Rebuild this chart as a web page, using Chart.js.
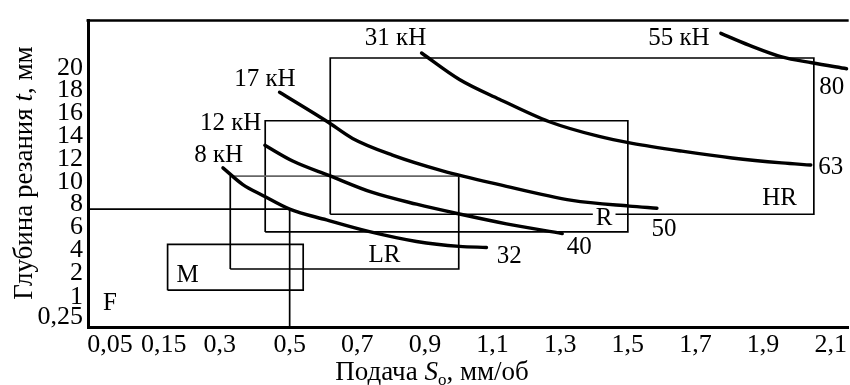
<!DOCTYPE html>
<html><head><meta charset="utf-8">
<script src="https://cdn.jsdelivr.net/npm/chart.js@4"></script>
<style>html,body{margin:0;padding:0;background:#fff}#wrap{width:850px;height:385px}</style>
</head><body><div id="wrap"><canvas id="c" width="850" height="385"></canvas></div>
<script>
// ---------- axis ticks ----------
const xTicks = [0.05, 0.15, 0.3, 0.5, 0.7, 0.9, 1.1, 1.3, 1.5, 1.7, 1.9, 2.1];
const xTickLabels = ['0,05', '0,15', '0,3', '0,5', '0,7', '0,9', '1,1', '1,3', '1,5', '1,7', '1,9', '2,1'];
const yTicks = [0.25, 1, 2, 4, 6, 8, 10, 12, 14, 16, 18, 20];
const yTickLabels = ['0,25', '1', '2', '4', '6', '8', '10', '12', '14', '16', '18', '20'];

// ---------- force curves (feed S, depth t) ----------
const curve8 = {
  s: [0.309, 0.366, 0.423, 0.5, 0.609, 0.736, 0.875, 1.002, 1.082],
  t: [11.22, 9.75, 8.80, 7.60, 6.65, 5.62, 4.76, 4.33, 4.24]
};
const curve12 = {
  s: [0.429, 0.509, 0.618, 0.745, 0.875, 1.002, 1.141, 1.306],
  t: [13.20, 11.82, 10.53, 9.06, 8.03, 7.17, 6.31, 5.45]
};
const curve17 = {
  s: [0.471, 0.612, 0.686, 0.804, 0.952, 1.120, 1.335, 1.504, 1.586],
  t: [17.85, 15.26, 13.80, 12.34, 10.96, 9.75, 8.37, 7.86, 7.68]
};
const curve31 = {
  s: [0.890, 1.002, 1.120, 1.268, 1.415, 1.513, 1.660, 1.808, 1.955, 2.041],
  t: [21.29, 18.97, 17.24, 15.26, 13.97, 13.37, 12.68, 12.08, 11.65, 11.47]
};
const curve55 = {
  s: [1.775, 1.858, 1.955, 2.044, 2.147],
  t: [23.01, 21.98, 20.95, 20.43, 19.91]
};
const curveNames = ['8 кН', '12 кН', '17 кН', '31 кН', '55 кН'];
const curveNamePos = { s: [0.297, 0.331, 0.429, 0.813, 1.651], t: [12.33, 15.09, 18.97, 22.58, 22.58] };
const curveEndNames = ['32', '40', '50', '63', '80'];
const curveEndPos = { s: [1.149, 1.356, 1.607, 2.10, 2.103], t: [3.46, 4.24, 5.79, 11.22, 18.28] };

// ---------- operating regions [sMin, sMax, tMin, tMax] ----------
const regionNames = ['M', 'LR', 'R', 'HR'];
const regionM  = [0.16, 0.54, 1.3, 4.5];
const regionLR = [0.33, 1.0, 2.35, 10.5];
const regionR  = [0.43, 1.5, 5.6, 15.35];
const regionHR = [0.62, 2.05, 7.15, 20.85];
const regionNamePos = { s: [0.214, 0.78, 1.43, 1.949], t: [1.92, 3.55, 6.74, 8.55] };
const fineName = 'F';
const finePos = { s: 0.05, t: 0.77 };

// reference lines: S = 0,5 mm/rev, t = 7,6 mm
const refS = 0.5;
const refT = 7.6;

// ---------- non-uniform axis scale (value -> axis units), as in the original ----------
const warpKnots = {
  x: [[0, 0], [0.05, 22], [0.15, 76], [0.3, 132], [0.5, 202], [2.1, 744]],
  y: [[0, 0], [0.25, 10], [1, 30], [2, 55], [20, 264]]
};
function warp(knots, v) {
  let i = 0;
  if (v <= knots[0][0]) i = 0;
  else if (v >= knots[knots.length - 1][0]) i = knots.length - 2;
  else while (i < knots.length - 2 && v > knots[i + 1][0]) i++;
  const [a0, p0] = knots[i], [a1, p1] = knots[i + 1];
  return p0 + (v - a0) * (p1 - p0) / (a1 - a0);
}
function unwarp(knots, p) {
  let i = 0;
  if (p <= knots[0][1]) i = 0;
  else if (p >= knots[knots.length - 1][1]) i = knots.length - 2;
  else while (i < knots.length - 2 && p > knots[i + 1][1]) i++;
  const [a0, p0] = knots[i], [a1, p1] = knots[i + 1];
  return a0 + (p - p0) * (a1 - a0) / (p1 - p0);
}
class WarpScale extends Chart.LinearScale {
  static id = 'warp';
  static defaults = Chart.LinearScale.defaults;
  _k() { return warpKnots[this.axis]; }
  getPixelForValue(v) {
    if (v === null || v === undefined || isNaN(v)) return NaN;
    const k = this._k(), a = warp(k, this.min), b = warp(k, this.max);
    return this.getPixelForDecimal((warp(k, v) - a) / (b - a));
  }
  getValueForPixel(p) {
    const k = this._k(), a = warp(k, this.min), b = warp(k, this.max);
    return unwarp(k, a + this.getDecimalForPixel(p) * (b - a));
  }
}
Chart.register(WarpScale);

// ---------- build datasets ----------
const pts = (c) => c.s.map((s, i) => ({ x: s, y: c.t[i] }));
const rect = (r) => [{ x: r[0], y: r[2] }, { x: r[1], y: r[2] }, { x: r[1], y: r[3] }, { x: r[0], y: r[3] }, { x: r[0], y: r[2] }];
const curveDs = (c) => ({ data: pts(c), borderColor: '#000', borderWidth: 3.4, pointRadius: 0, cubicInterpolationMode: 'monotone', fill: false, borderCapStyle: 'round' });
const rectDs = (r) => ({ data: rect(r), borderColor: '#000', borderWidth: 1.7, pointRadius: 0, tension: 0, fill: false });

const FONT = '"Liberation Serif", "Times New Roman", serif';

const annot = {
  id: 'annot',
  afterDatasetsDraw(chart) {
    const { ctx, chartArea: ca, scales: { x, y } } = chart;
    ctx.save();
    // top frame line
    ctx.strokeStyle = '#000'; ctx.lineWidth = 2.5;
    ctx.beginPath(); ctx.moveTo(ca.left - 1.5, ca.top); ctx.lineTo(ca.right, ca.top); ctx.stroke();

    ctx.fillStyle = '#000';
    ctx.font = '25px ' + FONT;
    ctx.textAlign = 'center'; ctx.textBaseline = 'middle';
    curveNames.forEach((n, i) => ctx.fillText(n, x.getPixelForValue(curveNamePos.s[i]), y.getPixelForValue(curveNamePos.t[i])));
    curveEndNames.forEach((n, i) => ctx.fillText(n, x.getPixelForValue(curveEndPos.s[i]), y.getPixelForValue(curveEndPos.t[i])));
    regionNames.forEach((n, i) => {
      const px = x.getPixelForValue(regionNamePos.s[i]), py = y.getPixelForValue(regionNamePos.t[i]);
      const w = ctx.measureText(n).width;
      ctx.fillStyle = '#fff'; ctx.fillRect(px - w / 2 - 3, py - 9, w + 6, 18);
      ctx.fillStyle = '#000'; ctx.fillText(n, px, py);
    });
    ctx.fillText(fineName, x.getPixelForValue(finePos.s), y.getPixelForValue(finePos.t));

    // x axis title: Подача S_o, мм/об
    const parts = [['Подача ', '27px ' + FONT, 0], ['S', 'italic 27px ' + FONT, 0], ['о', '17px ' + FONT, 5], [', мм/об', '27px ' + FONT, 0]];
    let tw = 0; parts.forEach(p => { ctx.font = p[1]; tw += ctx.measureText(p[0]).width; });
    let cx = 432 - tw / 2;
    ctx.textAlign = 'left'; ctx.textBaseline = 'alphabetic';
    parts.forEach(p => { ctx.font = p[1]; ctx.fillText(p[0], cx, 380 + p[2]); cx += ctx.measureText(p[0]).width; });

    // y axis title: Глубина резания t, мм
    const yparts = [['Глубина резания ', '27px ' + FONT], ['t', 'italic 27px ' + FONT], [', мм', '27px ' + FONT]];
    tw = 0; yparts.forEach(p => { ctx.font = p[1]; tw += ctx.measureText(p[0]).width; });
    ctx.translate(32, 173); ctx.rotate(-Math.PI / 2);
    cx = -tw / 2;
    yparts.forEach(p => { ctx.font = p[1]; ctx.fillText(p[0], cx, 0); cx += ctx.measureText(p[0]).width; });
    ctx.restore();
  }
};

const lrTopGrey = (c) => (c.p0.parsed.y === regionLR[3] && c.p1.parsed.y === regionLR[3]) ? '#666' : undefined;

new Chart(document.getElementById('c'), {
  type: 'line',
  data: {
    datasets: [
      curveDs(curve8), curveDs(curve12), curveDs(curve17), curveDs(curve31), curveDs(curve55),
      rectDs(regionM),
      Object.assign(rectDs(regionLR), { segment: { borderColor: lrTopGrey } }),
      rectDs(regionR), rectDs(regionHR),
      { data: [{ x: 0, y: refT }, { x: refS, y: refT }, { x: refS, y: 0 }], borderColor: '#000', borderWidth: 1.7, pointRadius: 0, tension: 0, fill: false }
    ]
  },
  options: {
    responsive: false,
    animation: false,
    maintainAspectRatio: false,
    layout: { padding: { top: 15, right: 0, left: 0, bottom: 0 } },
    plugins: { legend: { display: false }, tooltip: { enabled: false } },
    scales: {
      x: {
        type: 'warp', min: 0, max: 2.153, bounds: 'data',
        afterBuildTicks: s => { s.ticks = xTicks.map(v => ({ value: v })); },
        afterFit: s => { s.height = 58; },
        grid: { display: false, drawTicks: false },
        border: { display: true, color: '#000', width: 3 },
        ticks: { autoSkip: false, maxRotation: 0, minRotation: 0, color: '#000', padding: 3,
          font: { family: FONT, size: 26 }, callback: v => xTickLabels[xTicks.indexOf(v)] }
      },
      y: {
        type: 'warp', min: 0, max: 24.13, bounds: 'data',
        afterBuildTicks: s => { s.ticks = yTicks.map(v => ({ value: v })); },
        afterFit: s => { s.width = 88; },
        grid: { display: false, drawTicks: false },
        border: { display: true, color: '#000', width: 3 },
        ticks: { autoSkip: false, color: '#000', padding: 5,
          font: { family: FONT, size: 26 }, callback: v => yTickLabels[yTicks.indexOf(v)] }
      }
    }
  },
  plugins: [annot]
});
</script>
</body></html>
